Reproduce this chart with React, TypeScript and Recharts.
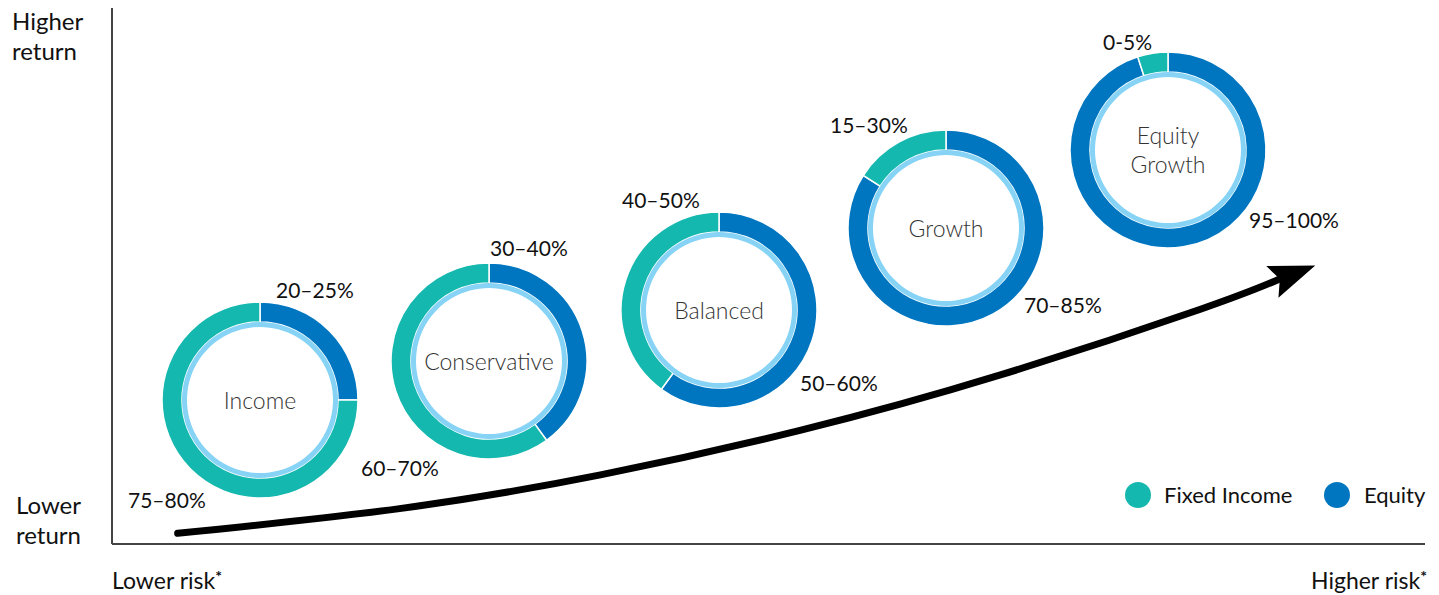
import React from 'react';
import { LineChart, Line, XAxis, YAxis, ReferenceLine, PieChart, Pie, Cell } from 'recharts';

// portfolio mixes (equity read clockwise from 12 o'clock, then fixed income)
const portfolios = ['Income', 'Conservative', 'Balanced', 'Growth', 'Equity Growth'];
const equityShare = [25, 40, 60, 84, 95];
const fixedIncomeShare = [75, 60, 40, 16, 5];
const equityRange = ['20–25%', '30–40%', '50–60%', '70–85%', '95–100%'];
const fixedRange = ['75–80%', '60–70%', '40–50%', '15–30%', '0-5%'];

// risk / return arrow (0-100 on both axes)
const arrowRisk = [5, 21.9, 37.2, 52.4, 67.6, 82.9, 88.8];
const arrowReturn = [2, 6.6, 12.9, 21.2, 31.5, 43.8, 49.3];

const W = 1439;
const H = 595;
const TEAL = '#15b8ae';
const BLUE = '#0076c0';
const LIGHT = '#86d3f6';
const FONT = 'Lato, "Open Sans", sans-serif';

// layout only
const centers = [
  [260, 400],
  [489, 361],
  [719, 310],
  [946, 228],
  [1168, 150],
];
const equityLabelPos = [
  [276, 290],
  [490, 248],
  [800, 383],
  [1024, 305],
  [1249, 220],
];
const fixedLabelPos = [
  [128, 500],
  [361, 468],
  [622, 200],
  [830, 125],
  [1103, 42],
];

const arrowData = arrowRisk.map((r, i) => ({ risk: r, ret: arrowReturn[i] }));

const Txt: React.FC<{ x: number; y: number; size?: number; color?: string; weight?: number; align?: 'left' | 'center' | 'right'; children: React.ReactNode }> = ({
  x, y, size = 21, color = '#111', weight = 400, align = 'left', children,
}) => {
  const tx = align === 'center' ? '-50%' : align === 'right' ? '-100%' : '0';
  return (
    <div
      style={{
        position: 'absolute', left: x, top: y, transform: `translate(${tx}, -50%)`,
        fontFamily: FONT, fontSize: size, fontWeight: weight, color, lineHeight: 1.25,
        whiteSpace: 'nowrap', textAlign: align,
      }}
    >
      {children}
    </div>
  );
};

const ArrowHead = (props: any) => {
  const { cx, cy, index } = props;
  if (index !== arrowData.length - 1) return <g key={`d${index}`} />;
  return (
    <polygon
      key={`d${index}`}
      points="-6,-17 40,0 -6,17 2,0"
      fill="#000"
      transform={`translate(${cx},${cy}) rotate(-21)`}
    />
  );
};

const star = <span style={{ fontSize: 16, verticalAlign: 'top', fontWeight: 700 }}>*</span>;

export default function App() {
  return (
    <div style={{ position: 'absolute', left: 0, top: 0, width: W, height: H, background: '#fff' }}>
      <div style={{ position: 'absolute', left: 0, top: 0 }}>
        <LineChart width={W} height={H} data={arrowData} margin={{ top: 8, right: 14, bottom: 51, left: 112 }}>
          <XAxis type="number" dataKey="risk" domain={[0, 100]} hide />
          <YAxis type="number" domain={[0, 100]} hide />
          <ReferenceLine x={0} stroke="#444" strokeWidth={2} />
          <ReferenceLine y={0} stroke="#444" strokeWidth={2} />
          <Line
            type="natural"
            dataKey="ret"
            stroke="#000"
            strokeWidth={7}
            strokeLinecap="round"
            dot={ArrowHead}
            activeDot={false}
            isAnimationActive={false}
          />
        </LineChart>
      </div>
      <div style={{ position: 'absolute', left: 0, top: 0 }}>
        <PieChart width={W} height={H} margin={{ top: 0, right: 0, bottom: 0, left: 0 }}>
          {portfolios.map((p, i) => (
            <Pie
              key={`ring${i}`}
              data={[
                { name: 'Equity', value: equityShare[i] },
                { name: 'Fixed Income', value: fixedIncomeShare[i] },
              ]}
              dataKey="value"
              cx={centers[i][0]}
              cy={centers[i][1]}
              innerRadius={78}
              outerRadius={98}
              startAngle={90}
              endAngle={-270}
              stroke="#fff"
              strokeWidth={1.5}
              isAnimationActive={false}
            >
              <Cell fill={BLUE} />
              <Cell fill={TEAL} />
            </Pie>
          ))}
          {portfolios.map((p, i) => (
            <Pie
              key={`inner${i}`}
              data={[{ name: p, value: 1 }]}
              dataKey="value"
              cx={centers[i][0]}
              cy={centers[i][1]}
              innerRadius={73}
              outerRadius={78}
              stroke="none"
              fill={LIGHT}
              isAnimationActive={false}
            />
          ))}
        </PieChart>
      </div>

      {portfolios.map((p, i) => (
        <Txt key={`n${i}`} x={centers[i][0]} y={centers[i][1]} size={23} weight={300} color="#333" align="center">
          {p.split(' ').map((w, k) => (
            <div key={k}>{w}</div>
          ))}
        </Txt>
      ))}
      {equityRange.map((t, i) => (
        <Txt key={`e${i}`} x={equityLabelPos[i][0]} y={equityLabelPos[i][1]}>{t}</Txt>
      ))}
      {fixedRange.map((t, i) => (
        <Txt key={`f${i}`} x={fixedLabelPos[i][0]} y={fixedLabelPos[i][1]}>{t}</Txt>
      ))}

      <Txt x={12} y={36} size={24}>
        <div>Higher</div>
        <div>return</div>
      </Txt>
      <Txt x={16} y={520} size={24}>
        <div>Lower</div>
        <div>return</div>
      </Txt>
      <Txt x={112} y={580} size={23}>
        Lower risk{star}
      </Txt>
      <Txt x={1427} y={580} size={23} align="right">
        Higher risk{star}
      </Txt>

      {/* legend */}
      <div style={{ position: 'absolute', left: 1125, top: 482, width: 26, height: 26, borderRadius: 13, background: TEAL }} />
      <Txt x={1164} y={495} size={22}>Fixed Income</Txt>
      <div style={{ position: 'absolute', left: 1324, top: 482, width: 26, height: 26, borderRadius: 13, background: BLUE }} />
      <Txt x={1364} y={495} size={22}>Equity</Txt>
    </div>
  );
}
